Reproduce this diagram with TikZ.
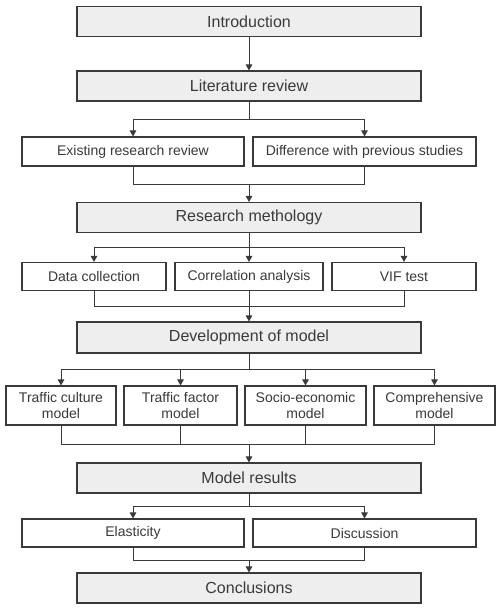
\documentclass[tikz,border=0pt]{standalone}
\usepackage{fontspec}
\setmainfont{Liberation Sans}
\usetikzlibrary{arrows.meta}
\definecolor{trait}{HTML}{3A3A3A}
\definecolor{fond}{HTML}{EEEEEE}
\tikzset{
    principal/.style={draw=trait, fill=fond, line width=1.1pt, minimum width=344pt, minimum height=30pt, inner sep=0pt, text=trait, font=\fontsize{16}{19}\selectfont},
    sousbloc/.style={draw=trait, fill=white, line width=1.1pt, minimum height=28pt, inner sep=0pt, text=trait, align=center, font=\fontsize{14}{16.5}\selectfont},
    lien/.style={draw=trait, line width=1pt},
    fleche/.style={lien, -{Triangle[length=6pt,width=6.5pt]}}
}

\begin{document}
\begin{tikzpicture}[x=1pt,y=-1pt]
    \useasboundingbox (0,0) rectangle (500,608);

    % Blocs principaux
    \node[principal] (intro) at (249,21.5) {Introduction};
    \node[principal] (litt) at (249,86) {Literature review};
    \node[principal] (meth) at (249,217.5) {Research methology};
    \node[principal, minimum height=31pt] (dev) at (249,337.5) {Development of model};
    \node[principal] (result) at (249,478) {Model results};
    \node[principal] (concl) at (249,588) {Conclusions};

    % Sous-blocs
    \node[sousbloc, minimum width=222pt, minimum height=29pt] (exist) at (133,151.5) {Existing research review};
    \node[sousbloc, minimum width=223pt, minimum height=29pt] (diff) at (364.5,151.5) {Difference with previous studies};
    \node[sousbloc, minimum width=144pt] (data) at (94,276.5) {Data collection};
    \node[sousbloc, minimum width=148pt] (corr) at (249,276.5) {Correlation analysis};
    \node[sousbloc, minimum width=144pt] (vif) at (404,276.5) {VIF test};
    \node[sousbloc, minimum width=110pt, minimum height=39pt] (culture) at (61,405.5) {Traffic culture\\model};
    \node[sousbloc, minimum width=113pt, minimum height=39pt] (factor) at (180.5,405.5) {Traffic factor\\model};
    \node[sousbloc, minimum width=121pt, minimum height=39pt] (socio) at (305.5,405.5) {Socio-economic\\model};
    \node[sousbloc, minimum width=121pt, minimum height=39pt] (compr) at (434.5,405.5) {Comprehensive\\model};
    \node[sousbloc, minimum width=222pt] (elast) at (133,533) {Elasticity};
    \node[sousbloc, minimum width=223pt] (disc) at (364.5,533) {Discussion};

    % Points de branchement
    \coordinate (j1) at (249,119);
    \coordinate (m1) at (249,184);
    \coordinate (j2) at (249,247);
    \coordinate (m2) at (249,306);
    \coordinate (j3) at (249,369);
    \coordinate (m3) at (249,444);
    \coordinate (j4) at (249,506);
    \coordinate (m4) at (249,560);

    \draw[fleche] (intro.south) -- (litt.north);

    \draw[lien] (litt.south) -- (j1);
    \foreach \b in {exist,diff} \draw[fleche] (j1) -| (\b.north);
    \foreach \b in {exist,diff} \draw[lien] (\b.south) |- (m1);
    \draw[fleche] (m1) -- (meth.north);

    \draw[lien] (meth.south) -- (j2);
    \foreach \b in {data,corr,vif} \draw[fleche] (j2) -| (\b.north);
    \foreach \b in {data,corr,vif} \draw[lien] (\b.south) |- (m2);
    \draw[fleche] (m2) -- (dev.north);

    \draw[lien] (dev.south) -- (j3);
    \foreach \b in {culture,factor,socio,compr} \draw[fleche] (j3) -| (\b.north);
    \foreach \b in {culture,factor,socio,compr} \draw[lien] (\b.south) |- (m3);
    \draw[fleche] (m3) -- (result.north);

    \draw[lien] (result.south) -- (j4);
    \foreach \b in {elast,disc} \draw[fleche] (j4) -| (\b.north);
    \foreach \b in {elast,disc} \draw[lien] (\b.south) |- (m4);
    \draw[fleche] (m4) -- (concl.north);
\end{tikzpicture}
\end{document}
